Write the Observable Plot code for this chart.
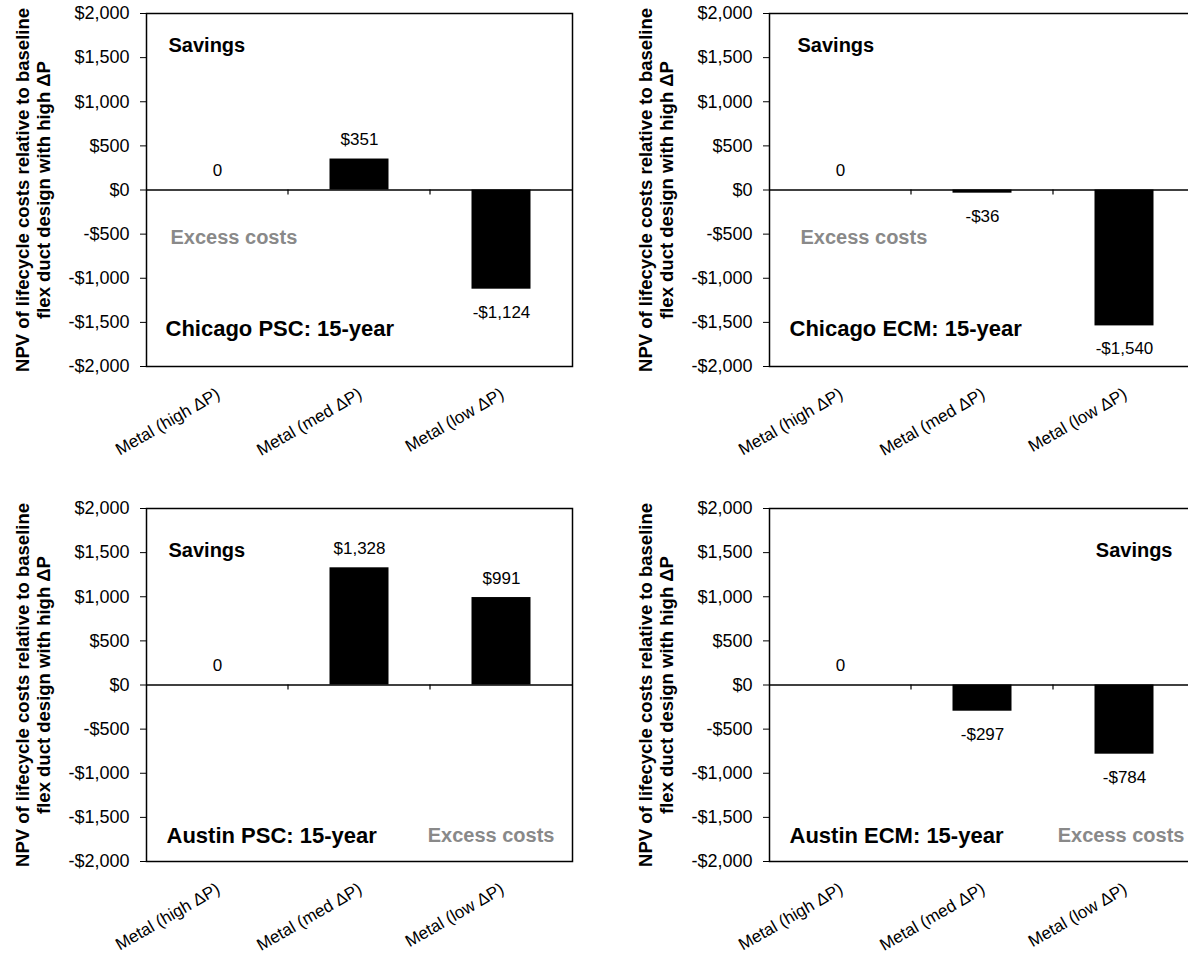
<!DOCTYPE html>
<html><head><meta charset="utf-8">
<script src="https://cdn.jsdelivr.net/npm/d3@7"></script>
<script src="https://cdn.jsdelivr.net/npm/@observablehq/plot@0.6"></script>
<style>
body{margin:0;background:#fff;}
#wrap{position:relative;width:1188px;height:957px;overflow:hidden;font-family:"Liberation Sans", Arial, sans-serif;}
.panel{position:absolute;width:594px;}
.panel svg{max-width:none !important;width:594px;}
</style></head><body><div id="wrap"></div>
<script>
const categories = ["Metal (high ΔP)", "Metal (med ΔP)", "Metal (low ΔP)"];
const chicagoPSC = [0, 351, -1124];
const chicagoECM = [0, -36, -1540];
const austinPSC = [0, 1328, 991];
const austinECM = [0, -297, -784];
const yTicks = [-2000, -1500, -1000, -500, 0, 500, 1000, 1500, 2000];
const yLabel = "NPV of lifecycle costs relative to baseline\nflex duct design with high ΔP";
const savingsText = "Savings";
const excessText = "Excess costs";

const money = v => (v < 0 ? "-$" : "$") + d3.format(",")(Math.abs(v));
const valueLabel = v => v === 0 ? "0" : money(v);

const panels = [
  {values: chicagoPSC, title: "Chicago PSC: 15-year", left: 0, top: 0,
   savings: {anchor: "top-left", dx: 22, dy: 32, ta: "start"},
   excess: {anchor: "top-left", dx: 24, dy: 224, ta: "start"},
   ttl: {dx: 19, dy: 315}},
  {values: chicagoECM, title: "Chicago ECM: 15-year", left: 623, top: 0,
   savings: {anchor: "top-left", dx: 28, dy: 32, ta: "start"},
   excess: {anchor: "top-left", dx: 31, dy: 224, ta: "start"},
   ttl: {dx: 20, dy: 315}},
  {values: austinPSC, title: "Austin PSC: 15-year", left: 0, top: 495,
   savings: {anchor: "top-left", dx: 22, dy: 42, ta: "start"},
   excess: {anchor: "top-right", dx: -18, dy: 327, ta: "end"},
   ttl: {dx: 20, dy: 327}},
  {values: austinECM, title: "Austin ECM: 15-year", left: 623, top: 495,
   savings: {anchor: "top-right", dx: -23, dy: 42, ta: "end"},
   excess: {anchor: "top-right", dx: -11, dy: 327, ta: "end"},
   ttl: {dx: 20, dy: 327}}
];

const W = 594, H = 462, mL = 146, mR = 22, mT = 13, mB = 96;
const FONT = "'Liberation Sans', Arial, sans-serif";
const wrap = document.getElementById("wrap");

for (const p of panels) {
  const data = categories.map((c, i) => ({cat: c, value: p.values[i]}));
  const chart = Plot.plot({
    width: W, height: H,
    marginLeft: mL, marginRight: mR, marginTop: mT, marginBottom: mB,
    style: {fontFamily: FONT, fontSize: "18px", color: "black", background: "white", overflow: "visible"},
    x: {domain: categories, padding: 0, axis: null},
    y: {domain: [-2000, 2000], ticks: yTicks, tickFormat: money, tickSize: 6, tickPadding: 11, label: null},
    marks: [
      Plot.barY(data, {x: "cat", y: "value", fill: "black", insetLeft: 41.5, insetRight: 41.5}),
      Plot.ruleY([0], {stroke: "black", strokeWidth: 1.5}),
      (index, scales) => {
        const g = d3.create("svg:g");
        const y0 = scales.y(0);
        categories.slice(1).forEach(c => {
          const px = scales.x(c);
          g.append("line").attr("x1", px).attr("x2", px).attr("y1", y0).attr("y2", y0 + 5)
            .attr("stroke", "black").attr("stroke-width", 1.2);
        });
        return g.node();
      },
      Plot.frame({stroke: "black", strokeWidth: 1.5}),
      Plot.text(data, {filter: d => d.value >= 0, x: "cat", y: "value", text: d => valueLabel(d.value), dy: -19, fontSize: 17, fill: "black"}),
      Plot.text(data, {filter: d => d.value < 0, x: "cat", y: "value", text: d => valueLabel(d.value), dy: 23, fontSize: 17, fill: "black"}),
      Plot.text(categories, {x: d => d, frameAnchor: "bottom", dy: 26, dx: 1, rotate: -30, textAnchor: "end", lineAnchor: "middle", fontSize: 17, fill: "black"}),
      Plot.text([yLabel], {frameAnchor: "left", dx: -114, rotate: -90, textAnchor: "middle", lineAnchor: "middle", lineHeight: 1.18, fontWeight: "bold", fontSize: 18.5, fill: "black"}),
      Plot.text([savingsText], {frameAnchor: p.savings.anchor, dx: p.savings.dx, dy: p.savings.dy, textAnchor: p.savings.ta, lineAnchor: "middle", fontWeight: "bold", fontSize: 20, fill: "black"}),
      Plot.text([excessText], {frameAnchor: p.excess.anchor, dx: p.excess.dx, dy: p.excess.dy, textAnchor: p.excess.ta, lineAnchor: "middle", fontWeight: "bold", fontSize: 20, fill: "#898989"}),
      Plot.text([p.title], {frameAnchor: "top-left", dx: p.ttl.dx, dy: p.ttl.dy, textAnchor: "start", lineAnchor: "middle", fontWeight: "bold", fontSize: 22, fill: "black"})
    ]
  });
  const div = document.createElement("div");
  div.className = "panel";
  div.style.left = p.left + "px";
  div.style.top = p.top + "px";
  div.appendChild(chart);
  wrap.appendChild(div);
}
</script></body></html>
